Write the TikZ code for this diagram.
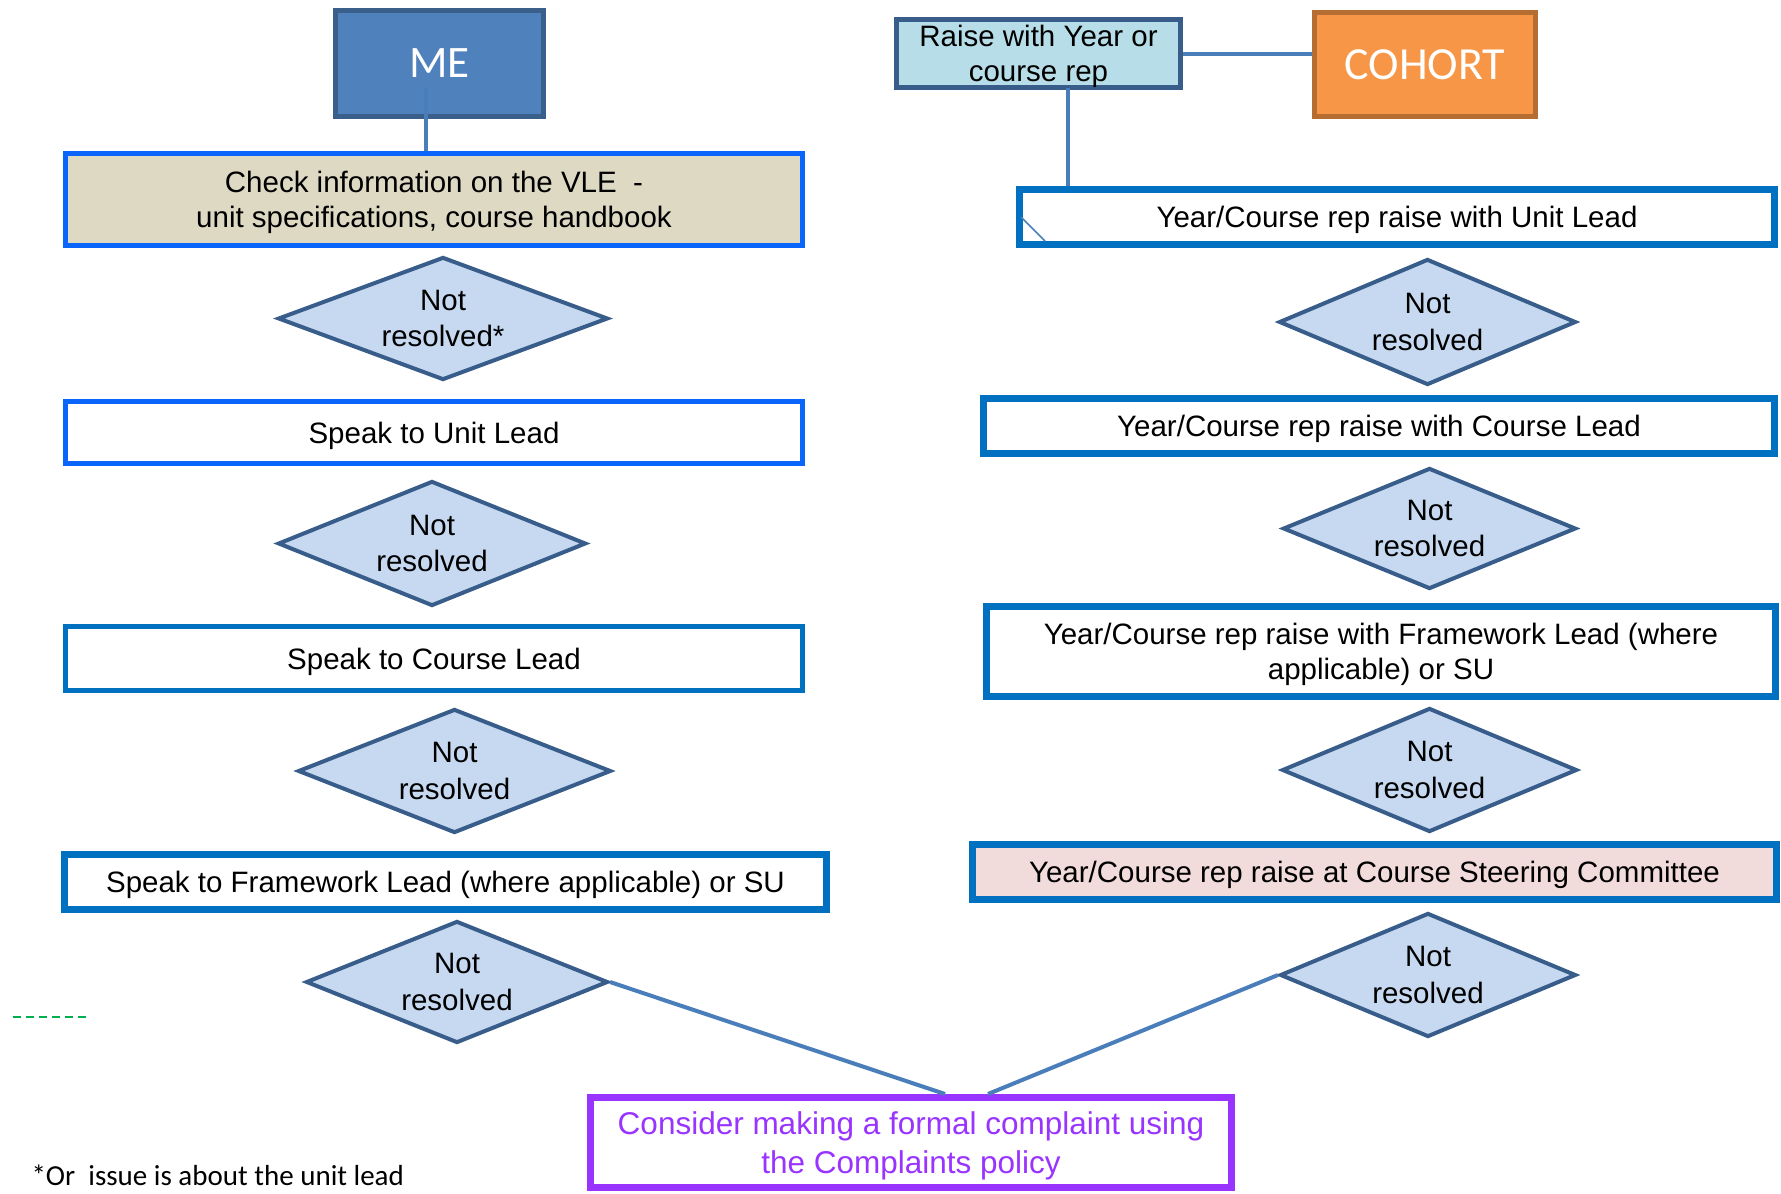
\documentclass[tikz,border=0pt]{standalone}
\usepackage{fontspec}
\setmainfont{Liberation Sans}
\newfontfamily\calfont{Carlito}
\usetikzlibrary{shapes.geometric}
\definecolor{meFill}{HTML}{4F81BD}
\definecolor{meBorder}{HTML}{3A5F8B}
\definecolor{cohortFill}{HTML}{F79646}
\definecolor{cohortBorder}{HTML}{B66D31}
\definecolor{raiseFill}{HTML}{B7DEE8}
\definecolor{raiseBorder}{HTML}{385D8A}
\definecolor{vleFill}{HTML}{DDD9C3}
\definecolor{brightBlue}{HTML}{0A66FA}
\definecolor{medBlue}{HTML}{0070C0}
\definecolor{diaFill}{HTML}{C6D9F1}
\definecolor{diaBorder}{HTML}{385D8A}
\definecolor{steerFill}{HTML}{F2DCDB}
\definecolor{purp}{HTML}{9933FF}
\definecolor{connCol}{HTML}{4A7EBB}
\definecolor{greenDash}{HTML}{00B050}
\tikzset{
  txt/.style={font=\fontsize{29.5}{34.5}\selectfont, text=black},
  boxnode/.style={rectangle, draw, inner sep=0pt, align=center, txt, text depth=0pt},
  oneline/.style={text height=21pt, text depth=0pt},
  dianode/.style={diamond, draw=diaBorder, fill=diaFill, line width=4pt, inner sep=0pt, aspect=2.6, align=center,
                  font=\fontsize{29.5}{36.5}\selectfont, text=black, text depth=0pt},
  conn/.style={draw=connCol, line width=4pt},
}
\begin{document}
\begin{tikzpicture}[x=1pt, y=-1pt]
\useasboundingbox (0,0) rectangle (1781,1194);
% ---------------- left column ----------------
\node[boxnode, draw=meBorder, fill=meFill, line width=5pt, minimum width=208pt, minimum height=106pt,
      font=\calfont\fontsize{45}{50}\selectfont, text=white, text height=29pt, text depth=0pt] (me) at (439.5,63) {ME};
\node[boxnode, draw=brightBlue, fill=vleFill, line width=4.5pt, minimum width=737pt, minimum height=92pt] (vle) at (434,199.5)
  {Check information on the VLE\ \ -\\unit specifications, course handbook};
\node[dianode, minimum width=330pt, minimum height=123pt] (d1) at (443,318.5) {Not\\resolved*};
\node[boxnode, oneline, draw=brightBlue, line width=4.5pt, minimum width=737pt, minimum height=62pt] (unitL) at (434,432.5) {Speak to Unit Lead};
\node[dianode, minimum width=308pt, minimum height=125pt] (d2) at (432,543.5) {Not\\resolved};
\node[boxnode, oneline, draw=medBlue, line width=5pt, minimum width=737pt, minimum height=64pt] (courseL) at (434,658.5) {Speak to Course Lead};
\node[dianode, minimum width=313pt, minimum height=124pt] (d3) at (454.5,771) {Not\\resolved};
\node[boxnode, oneline, draw=medBlue, line width=7pt, minimum width=762pt, minimum height=55pt] (frameL) at (445.5,882) {Speak to Framework Lead (where applicable) or SU};
\node[dianode, minimum width=302pt, minimum height=122pt] (d4) at (457,982) {Not\\resolved};
% ---------------- right column ----------------
\node[boxnode, draw=raiseBorder, fill=raiseFill, line width=5pt, minimum width=284pt, minimum height=68pt] (raise) at (1038.5,53.5)
  {Raise with Year or\\course rep};
\node[boxnode, draw=cohortBorder, fill=cohortFill, line width=5pt, minimum width=221pt, minimum height=104pt,
      font=\calfont\fontsize{46}{50}\selectfont, text=white, text height=29pt, text depth=0pt] (cohort) at (1425,64.5) {COHORT};
\node[boxnode, oneline, draw=medBlue, line width=7pt, minimum width=755pt, minimum height=55pt] (unitR) at (1397,217) {Year/Course rep raise with Unit Lead};
\node[dianode, minimum width=297pt, minimum height=126pt] (r1) at (1427.5,322) {Not\\resolved};
\node[boxnode, oneline, draw=medBlue, line width=7pt, minimum width=791pt, minimum height=55pt] (courseR) at (1379,426) {Year/Course rep raise with Course Lead};
\node[dianode, minimum width=293pt, minimum height=121pt] (r2) at (1429.5,528.5) {Not\\resolved};
\node[boxnode, draw=medBlue, line width=7pt, minimum width=789pt, minimum height=90pt] (frameR) at (1381,651.5)
  {Year/Course rep raise with Framework Lead (where\\applicable) or SU};
\node[dianode, minimum width=295pt, minimum height=124pt] (r3) at (1429.5,770) {Not\\resolved};
\node[boxnode, oneline, draw=medBlue, fill=steerFill, line width=7pt, minimum width=804pt, minimum height=55pt] (steer) at (1374.5,872) {Year/Course rep raise at Course Steering Committee};
\node[dianode, minimum width=296pt, minimum height=124pt] (r4) at (1428,975) {Not\\resolved};
% ---------------- bottom ----------------
\node[boxnode, draw=purp, line width=7pt, minimum width=641pt, minimum height=90pt, text=purp,
      font=\fontsize{31.5}{38.5}\selectfont, text depth=-15pt] (complaint) at (911,1142.5)
  {Consider making a formal complaint using\\the Complaints policy};
\node[anchor=base west, font=\calfont\fontsize{29}{32}\selectfont] (foot) at (28,1185) {*Or\ \ issue is about the unit lead};
% ---------------- connectors ----------------
\coordinate (meIn) at (426,88);
\draw[conn] (meIn) -- (meIn |- vle.north);
\coordinate (raiseOut) at (1068,88);
\draw[conn] (raiseOut) -- (raiseOut |- unitR.north);
\draw[conn] (raise.east) -- (cohort.west |- raise.east);
\coordinate (cIn1) at (945,1094);
\coordinate (cIn2) at (988,1094);
\draw[conn] (d4.east) -- (cIn1);
\draw[conn] (r4.west) -- (cIn2);
\coordinate (tickA) at (1021,217);
\coordinate (tickB) at (1045,241);
\draw[draw=connCol, line width=1.5pt] (tickA) -- (tickB);
\coordinate (gA) at (13,1017);
\coordinate (gB) at (89,1017);
\draw[draw=greenDash, line width=2pt, dash pattern=on 8pt off 5pt] (gA) -- (gB);
\end{tikzpicture}
\end{document}
